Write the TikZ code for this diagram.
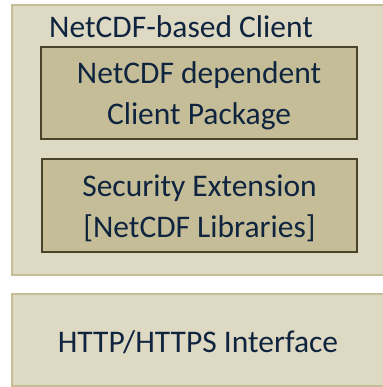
\documentclass[tikz,border=0pt]{standalone}
\usepackage{fontspec}
\setmainfont{Carlito}
\definecolor{tanlight}{HTML}{DDD9C3}
\definecolor{tanmid}{HTML}{C4BD97}
\definecolor{tandark}{HTML}{494429}
\definecolor{navytext}{HTML}{0F243E}
\def\fsize{\fontsize{31.5}{41}\selectfont}

\begin{document}
\begin{tikzpicture}[x=1pt,y=-1pt]
    \tikzstyle{layer} = [rectangle, fill=tanlight, draw=tanmid, line width=2pt, inner sep=0pt]
    \tikzstyle{module} = [rectangle, fill=tanmid, draw=tandark, line width=1.5pt, inner sep=0pt]
    \tikzstyle{label} = [text=navytext, font=\fsize, align=center, inner sep=0pt, anchor=base]

    \useasboundingbox (0,0) rectangle (382,387);

    %%% DRAW THE LAYERS
    \node[layer, minimum width=372pt, minimum height=270pt] (client) at (198,140) {};
    \node[layer, minimum width=372pt, minimum height=92pt] (http) at (198,340) {};

    %%% DRAW THE MODULES
    \node[module, minimum width=316pt, minimum height=92pt] (pkg) at (199,93) {};
    \node[module, minimum width=315pt, minimum height=93pt] (sec) at (199.5,205.5) {};

    %%% ANNOTATE (base = last line)
    \node[label, anchor=base west] (title) at (49,38) {NetCDF-based Client};
    \node[label] (pkgtext) at (199,125) {NetCDF dependent\\Client Package};
    \node[label] (sectext) at (199.5,237) {Security Extension\\{[NetCDF Libraries]}};
    \node[label] (httptext) at (198,352) {HTTP/HTTPS Interface};

\end{tikzpicture}
\end{document}
